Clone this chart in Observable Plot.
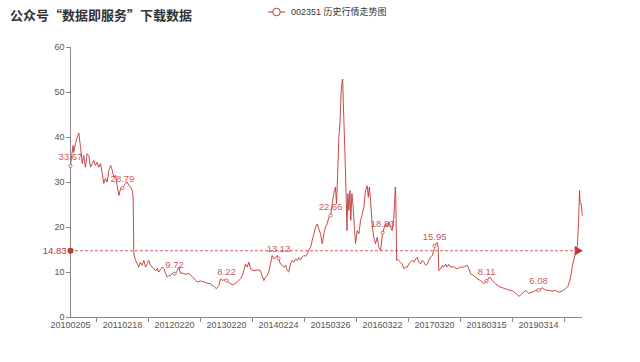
<!DOCTYPE html>
<html>
<head>
<meta charset="utf-8">
<script src="https://cdn.jsdelivr.net/npm/d3@7"></script>
<script src="https://cdn.jsdelivr.net/npm/@observablehq/plot@0.6"></script>
<style>
  html, body { margin: 0; padding: 0; background: #fff; }
  #wrap { position: relative; width: 640px; height: 362px; font-family: "Liberation Sans", "Noto Sans CJK SC", sans-serif; }
  #title { position: absolute; left: 10px; top: 5px; font-size: 13px; font-weight: bold; color: #333; font-family: "Noto Sans CJK SC", sans-serif; }
  #legend { position: absolute; left: 268px; top: 5px; font-size: 9px; color: #333; display: flex; align-items: center; font-family: "Liberation Sans", "Noto Sans CJK SC", sans-serif; }
  #legend svg { margin-right: 6px; }
</style>
</head>
<body>
<div id="wrap">
  <div id="title">公众号“数据即服务”下载数据</div>
  <div id="legend"><svg width="17" height="12"><line x1="0" y1="6" x2="17" y2="6" stroke="#c23531" stroke-width="1"/><circle cx="8.5" cy="6" r="3.8" fill="#fff" stroke="#c23531" stroke-width="1"/></svg><span id="legendText">002351 历史行情走势图</span></div>
</div>
<script>
// trading-day index (category position) and closing price
const series = [
[0,33.67],[7,36.5],[12,38.2],[15,36.7],[23,38.6],[31,40],[39,41],[47,37.8],[55,34.2],[62,36],
[70,33.4],[78,36.4],[86,36],[94,33.4],[102,34.2],[109,34.9],[117,33.8],[125,34.5],[133,33.4],[141,34.2],
[149,32],[156,29.8],[164,30.9],[172,30.1],[180,32.7],[188,33.8],[196,32.7],[203,31.2],[211,31.6],[219,29.3],
[227,27.1],[235,28.7],[244,28.79],[250,29.3],[258,29.8],[266,30.1],[274,29.3],[282,29],[290,28.2],[294,26.7],
[297,14.2],[305,12.7],[313,12],[320,11.2],[328,12.3],[336,11.6],[344,12.7],[352,11.2],[360,12],[367,12.7],
[375,11.6],[383,11.2],[391,10.9],[399,10.4],[407,10.9],[414,10.1],[422,10.7],[430,11.2],[438,10.9],[446,9.8],
[454,9],[461,9.3],[469,9.3],[479,9.8],[488,9.72],[493,9.8],[501,10.4],[508,11.2],[516,9.8],[524,9.9],
[540,9.6],[555,9.8],[571,9.1],[579,8.7],[594,7.9],[610,8.1],[625,7.9],[641,7.6],[657,7.5],[672,6.9],
[685,6.4],[696,7.1],[704,8.6],[712,8.2],[719,8.4],[732,8.22],[751,7.5],[766,7.3],[782,7.9],[798,8.6],
[806,9.3],[813,10.4],[821,11.9],[829,11.2],[837,12.3],[845,10.8],[860,10.4],[876,10.6],[891,10.4],[899,9.3],
[907,8.2],[915,9],[923,9.3],[930,10.1],[938,11.9],[946,13.8],[954,13],[962,13.4],[970,13.8],[976,13.13],
[985,11.9],[993,11.6],[1001,11.2],[1009,11.6],[1017,10.4],[1024,10.1],[1032,11.9],[1040,12.7],[1048,12.3],[1056,13],
[1064,12.7],[1071,13.3],[1079,12.8],[1087,13.4],[1095,13.8],[1103,13.6],[1111,14.2],[1118,14.9],[1126,15.6],[1134,17.1],
[1142,18.6],[1150,20.1],[1158,20.8],[1165,19.7],[1173,18.6],[1181,16.4],[1189,18.6],[1196,20.1],[1204,20.8],[1212,22.3],
[1220,22.66],[1228,25.3],[1235,27.5],[1243,29],[1248,25.3],[1254,32.7],[1259,40],[1264,43],[1270,50.4],[1275,52.7],
[1277,53],[1280,47.5],[1284,41.6],[1289,34.2],[1294,25.3],[1297,19.3],[1301,27.5],[1306,23.8],[1311,28.2],[1315,21.6],
[1320,27.5],[1325,25.3],[1333,19.3],[1337,16.4],[1345,19.3],[1353,18.6],[1361,21.6],[1369,23],[1376,24.5],[1384,28.2],
[1392,29.3],[1397,26.7],[1402,29],[1408,26],[1416,20.1],[1423,17.8],[1431,16.4],[1439,17.8],[1447,15.6],[1455,14.9],
[1464,18.83],[1478,20.8],[1486,20.1],[1494,21.2],[1501,20.1],[1509,19.3],[1517,22.3],[1524,29],[1526,26.7],[1530,12.7],
[1533,13],[1548,12.3],[1556,11.9],[1564,10.8],[1572,11.2],[1580,11.2],[1587,11.9],[1595,12.3],[1603,12.7],[1611,12.3],
[1619,13],[1627,13.4],[1634,12.3],[1642,11.9],[1650,12.7],[1658,12.3],[1666,11.6],[1674,11.9],[1681,12.7],[1689,13.4],
[1697,13.8],[1705,14.9],[1708,15.95],[1720,16.7],[1725,15.6],[1728,10.4],[1736,10.8],[1744,11.6],[1752,11.2],[1760,11.9],
[1767,11.2],[1775,11.8],[1783,11.2],[1798,11.3],[1814,10.8],[1830,11.2],[1845,11.2],[1861,11.6],[1869,10.8],[1877,9.7],
[1892,9.3],[1900,9],[1908,8.6],[1924,8.2],[1939,7.5],[1952,8.11],[1966,9],[1979,8.2],[1994,7.5],[2010,6.9],
[2026,6.6],[2041,6.4],[2057,6.1],[2072,6],[2088,5.4],[2104,4.7],[2119,5.3],[2135,6],[2150,5.4],[2166,5.6],
[2182,6],[2196,6.08],[2213,6.6],[2229,6.1],[2244,6],[2260,5.9],[2276,6],[2291,5.6],[2307,5.9],[2323,6.4],
[2333,6.9],[2343,8.2],[2349,9.7],[2355,11.6],[2362,13],[2370,14.5],[2378,16],[2384,21.6],[2388,28.2],[2391,25.3],
[2396,25.3],[2401,22.7]
];
const lastDay = 2402;
const markLineEnd = 2378;
const labelDates = ["20100205","20110218","20120220","20130220","20140224","20150326","20160322","20170320","20180315","20190314"];
const labelDays = [0,244,488,732,976,1220,1464,1708,1952,2196];
const labelValues = [33.67,28.79,9.72,8.22,13.13,22.66,18.83,15.95,8.11,6.08];
const boundaryTicks = [122,366,610,854,1098,1342,1586,1830,2074,2318];
const yTicks = [0,10,20,30,40,50,60];
const average = 14.83;

const red = "#c23531";
const data = series.map(([d, v]) => ({d, v}));
const labels = labelDays.map((d, i) => ({d, v: labelValues[i], t: labelValues[i].toFixed(2)}));

const chart = Plot.plot({
  width: 640,
  height: 362,
  marginLeft: 70,
  marginRight: 58,
  marginTop: 47,
  marginBottom: 45,
  x: {domain: [0, lastDay], axis: null},
  y: {domain: [0, 60], axis: null},
  style: {fontFamily: "'Liberation Sans', 'Noto Sans CJK SC', sans-serif", fontSize: "9px", background: "transparent"},
  marks: [
    Plot.ruleY([average], {x1: 0, x2: markLineEnd, stroke: red, strokeWidth: 0.8, strokeDasharray: "3,2"}),
    Plot.line(data, {x: "d", y: "v", stroke: red, strokeWidth: 0.9}),
    Plot.ruleX([0], {y1: 0, y2: 60, stroke: "#888"}),
    Plot.ruleY([0], {stroke: "#888"}),
    Plot.axisY({ticks: yTicks, tickSize: 4, tickPadding: 2, stroke: "#888", color: "#555", label: null}),
    Plot.axisX({ticks: boundaryTicks, tickSize: 5, tickFormat: () => "", stroke: "#888", label: null}),
    Plot.axisX({ticks: labelDays, tickSize: 0, tickPadding: 4, tickFormat: d => labelDates[labelDays.indexOf(d)], color: "#555", label: null}),
    Plot.dot(labels, {x: "d", y: "v", r: 1.6, stroke: red, fill: "white", strokeWidth: 0.7}),
    Plot.text(labels, {x: "d", y: "v", text: "t", dy: -9, fill: red, fillOpacity: 0.85, fontSize: 9.5}),
    Plot.dot([average], {x: () => 0, y: d => d, r: 3, fill: red}),
    Plot.text([average], {x: () => 0, y: d => d, text: d => d.toFixed(2), textAnchor: "end", dx: -4, fill: red, fontSize: 9.5}),
    Plot.dot([average], {x: () => markLineEnd, y: d => d, symbol: "triangle", rotate: 90, r: 3.5, fill: red})
  ]
});
chart.style.position = "absolute";
chart.style.left = "0px";
chart.style.top = "0px";
document.getElementById("wrap").appendChild(chart);
</script>
</body>
</html>
